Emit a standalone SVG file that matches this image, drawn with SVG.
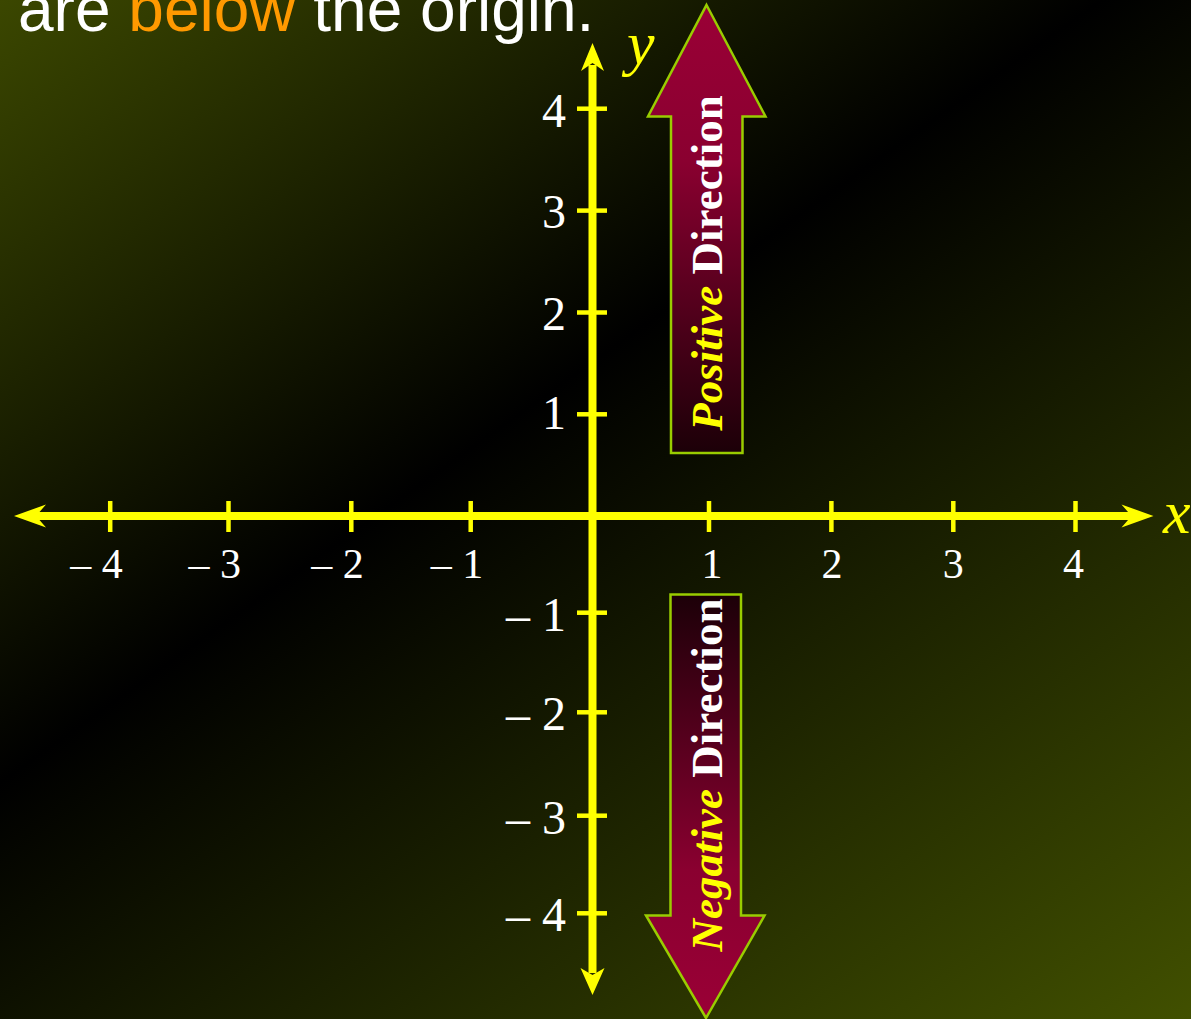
<svg xmlns="http://www.w3.org/2000/svg" width="1191" height="1019" viewBox="0 0 1191 1019">
  <defs>
    <linearGradient id="bg" gradientUnits="userSpaceOnUse" x1="0" y1="0" x2="880" y2="1239">
      <stop offset="0" stop-color="#3b4700"/>
      <stop offset="0.42" stop-color="#000000"/>
      <stop offset="1" stop-color="#415000"/>
    </linearGradient>
    <linearGradient id="upFill" x1="0" y1="0" x2="0" y2="1">
      <stop offset="0" stop-color="#9a0036"/>
      <stop offset="0.35" stop-color="#8a0030"/>
      <stop offset="1" stop-color="#1c0008"/>
    </linearGradient>
    <linearGradient id="downFill" x1="0" y1="0" x2="0" y2="1">
      <stop offset="0" stop-color="#1c0008"/>
      <stop offset="0.65" stop-color="#8a0030"/>
      <stop offset="1" stop-color="#9a0036"/>
    </linearGradient>
    <style>
      .axis { stroke: #ffff00; stroke-width: 8; fill: none; }
      .tick { stroke: #ffff00; stroke-width: 4.5; fill: none; }
      .head { fill: #ffff00; stroke: none; }
      .xl { font-family: "Liberation Serif", "Times New Roman", serif; font-size: 42px; fill: #ffffff; }
      .yl { font-family: "Liberation Serif", "Times New Roman", serif; font-size: 48px; fill: #ffffff; text-anchor: end; }
      .var { font-family: "Liberation Serif", "Times New Roman", serif; font-style: italic; font-size: 62px; fill: #ffff00; }
      .big { stroke: #99cc00; stroke-width: 2.5; }
      .lbl { font-family: "Liberation Serif", "Times New Roman", serif; font-weight: bold; font-size: 45px; fill: #ffffff; text-anchor: middle; }
      .em { font-style: italic; fill: #ffff00; }
      .title { font-family: "Liberation Sans", Arial, sans-serif; font-size: 64px; fill: #ffffff; }
    </style>
  </defs>

  <rect x="0" y="0" width="1191" height="1019" fill="url(#bg)"/>

  <g id="title">
    <text class="title" x="18" y="31">are <tspan fill="#ff9900">below</tspan> the origin.</text>
  </g>

  <g id="positive-arrow">
    <path class="big" fill="url(#upFill)" d="M706.5,5 L765.5,116.5 L742.5,116.5 L742.5,453 L671,453 L671,116.5 L648,116.5 Z"/>
    <text class="lbl" transform="translate(722,263) rotate(-90)"><tspan class="em">Positive</tspan> Direction</text>
  </g>

  <g id="negative-arrow">
    <path class="big" fill="url(#downFill)" d="M670.5,594.5 L741,594.5 L741,915.5 L764.5,915.5 L706,1018 L646,915.5 L670.5,915.5 Z"/>
    <text class="lbl" transform="translate(722,775) rotate(-90)"><tspan class="em">Negative</tspan> Direction</text>
  </g>

  <g id="connectors">
    <line class="axis" x1="34" y1="516" x2="1134" y2="516"/>
    <line class="axis" x1="592.5" y1="65" x2="592.5" y2="973"/>
    <path class="head" d="M1153.5,516 L1121.5,504.5 L1131.5,516 L1121.5,527.5 Z"/>
    <path class="head" d="M14,516 L46,504.5 L36,516 L46,527.5 Z"/>
    <path class="head" d="M592.5,43 L581,71 L592.5,63 L604,71 Z"/>
    <path class="head" d="M592.5,995 L580.5,968 L592.5,975 L604.5,968 Z"/>
  </g>

  <g id="x-ticks">
    <line class="tick" x1="110.2" y1="501" x2="110.2" y2="532"/>
    <line class="tick" x1="228.5" y1="501" x2="228.5" y2="532"/>
    <line class="tick" x1="351.3" y1="501" x2="351.3" y2="532"/>
    <line class="tick" x1="470.7" y1="501" x2="470.7" y2="532"/>
    <line class="tick" x1="709" y1="501" x2="709" y2="532"/>
    <line class="tick" x1="831.4" y1="501" x2="831.4" y2="532"/>
    <line class="tick" x1="953.3" y1="501" x2="953.3" y2="532"/>
    <line class="tick" x1="1075.5" y1="501" x2="1075.5" y2="532"/>
  </g>

  <g id="y-ticks">
    <line class="tick" x1="577" y1="108.7" x2="607" y2="108.7"/>
    <line class="tick" x1="577" y1="210.6" x2="607" y2="210.6"/>
    <line class="tick" x1="577" y1="312.5" x2="607" y2="312.5"/>
    <line class="tick" x1="577" y1="414.3" x2="607" y2="414.3"/>
    <line class="tick" x1="577" y1="612.7" x2="607" y2="612.7"/>
    <line class="tick" x1="577" y1="712.3" x2="607" y2="712.3"/>
    <line class="tick" x1="577" y1="815.7" x2="607" y2="815.7"/>
    <line class="tick" x1="577" y1="913.3" x2="607" y2="913.3"/>
  </g>

  <g id="x-labels">
    <text class="xl" x="122.7" y="578" text-anchor="end">– 4</text>
    <text class="xl" x="241" y="578" text-anchor="end">– 3</text>
    <text class="xl" x="363.8" y="578" text-anchor="end">– 2</text>
    <text class="xl" x="483.2" y="578" text-anchor="end">– 1</text>
    <text class="xl" x="712" y="578" text-anchor="middle">1</text>
    <text class="xl" x="832" y="578" text-anchor="middle">2</text>
    <text class="xl" x="953.3" y="578" text-anchor="middle">3</text>
    <text class="xl" x="1073.5" y="578" text-anchor="middle">4</text>
    <text class="var" x="1163" y="533">x</text>
  </g>

  <g id="y-labels">
    <text class="yl" x="566" y="126.5">4</text>
    <text class="yl" x="566" y="228">3</text>
    <text class="yl" x="566" y="329.5">2</text>
    <text class="yl" x="566" y="428.5">1</text>
    <text class="yl" x="566" y="630.5">– 1</text>
    <text class="yl" x="566" y="730">– 2</text>
    <text class="yl" x="566" y="833.5">– 3</text>
    <text class="yl" x="566" y="931">– 4</text>
    <text class="var" x="627" y="63.5">y</text>
  </g>
</svg>
